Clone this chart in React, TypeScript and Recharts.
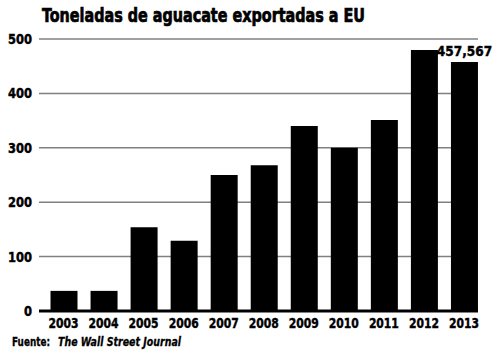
import React from "react";
import { BarChart, Bar, XAxis, YAxis, CartesianGrid, LabelList } from "recharts";

const years = ["2003", "2004", "2005", "2006", "2007", "2008", "2009", "2010", "2011", "2012", "2013"];
const tons = [37, 37, 154, 129, 250, 268, 340, 300, 351, 480, 457.567];
const barLabels = ["", "", "", "", "", "", "", "", "", "", "457,567"];
const yTicks = [0, 100, 200, 300, 400, 500];

const data = years.map((y, i) => ({ year: y, value: tons[i], label: barLabels[i] }));

const FONT = "'DejaVu Sans Condensed', 'DejaVu Sans', sans-serif";

const XTick = (props: any) => {
  const { x, y, payload } = props;
  return (
    <text
      x={x}
      y={y + 9}
      textAnchor="middle"
      fontFamily={FONT}
      fontWeight={700}
      fontSize={13.5}
      fill="#000"
      stroke="#000"
      strokeWidth={0.4}
      textLength={30}
      lengthAdjust="spacingAndGlyphs"
    >
      {payload.value}
    </text>
  );
};

const YTick = (props: any) => {
  const { x, y, payload } = props;
  const s = String(payload.value);
  return (
    <text
      x={x + 1}
      y={y + 5}
      textAnchor="end"
      fontFamily={FONT}
      fontWeight={700}
      fontSize={13.5}
      fill="#000"
      stroke="#000"
      strokeWidth={0.4}
      textLength={s.length * 8}
      lengthAdjust="spacingAndGlyphs"
    >
      {s}
    </text>
  );
};

export default function App() {
  return (
    <div style={{ position: "absolute", left: 0, top: 0, width: 500, height: 359, background: "#fff" }}>
      <BarChart
        width={500}
        height={359}
        data={data}
        margin={{ top: 39, right: 22, bottom: 0, left: 0 }}
      >
        <CartesianGrid horizontal vertical={false} stroke="#808080" strokeWidth={1.5} />
        <XAxis
          dataKey="year"
          height={48}
          tickLine={false}
          axisLine={{ stroke: "#000", strokeWidth: 3 }}
          padding={{ left: 4.5, right: -6 }}
          interval={0}
          tick={<XTick />}
        />
        <YAxis
          width={39}
          domain={[0, 500]}
          ticks={yTicks}
          tickLine={false}
          axisLine={false}
          tick={<YTick />}
        />
        <Bar dataKey="value" fill="#000" barSize={27} isAnimationActive={false}>
          <LabelList
            dataKey="label"
            position="top"
            offset={6}
            style={{ fill: "#000", stroke: "#000", strokeWidth: 0.4, fontFamily: FONT, fontWeight: 700, fontSize: 13.5 }}
          />
        </Bar>
      </BarChart>
      <svg width={500} height={359} style={{ position: "absolute", left: 0, top: 0, pointerEvents: "none" }}>
        <text x={42} y={22} fontFamily={FONT} fontWeight={700} fontSize={20} stroke="#000" strokeWidth={0.7} textLength={323} lengthAdjust="spacingAndGlyphs" fill="#000">
          Toneladas de aguacate exportadas a EU
        </text>
        <text x={12} y={346} fontFamily={FONT} fontWeight={700} fontSize={13} stroke="#000" strokeWidth={0.3} fill="#000" textLength={38} lengthAdjust="spacingAndGlyphs">
          Fuente:
        </text>
        <text x={58} y={346} fontFamily={FONT} fontWeight={700} fontStyle="italic" fontSize={13} stroke="#000" strokeWidth={0.3} fill="#000" textLength={123} lengthAdjust="spacingAndGlyphs">
          The Wall Street Journal
        </text>
      </svg>
    </div>
  );
}
